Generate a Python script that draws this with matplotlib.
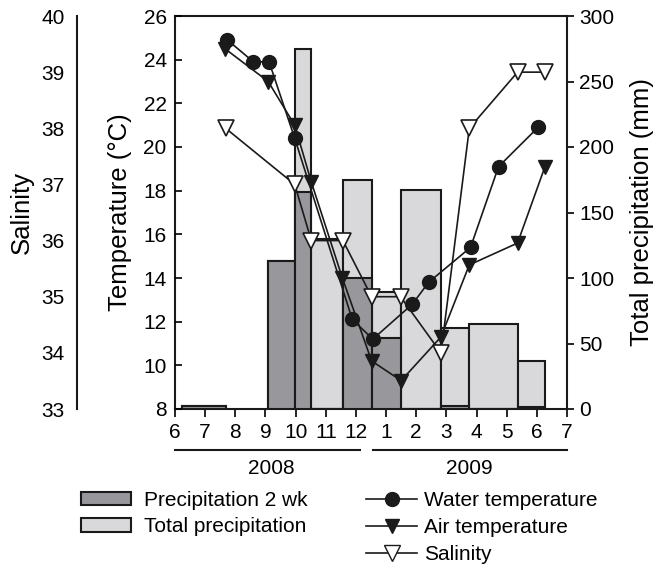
import numpy as np
import matplotlib
matplotlib.use("Agg")
import matplotlib.pyplot as plt
from matplotlib.patches import Patch
from matplotlib.lines import Line2D

plt.rcParams['font.family'] = ['Liberation Sans', 'DejaVu Sans']

# x = months since start of June 2008 (tick "6" = 0)
month_labels = ['6', '7', '8', '9', '10', '11', '12', '1', '2', '3', '4', '5', '6', '7']

# precipitation bars between sampling dates (mm)
bar_start = [0.24, 3.09, 3.97, 4.52, 5.57, 6.52, 7.48, 8.82, 9.76, 11.36]
bar_end = [1.68, 3.97, 4.52, 5.57, 6.52, 7.48, 8.82, 9.76, 11.36, 12.27]
precip_total = [2, 113, 275, 130, 175, 89, 167, 62, 65, 37]
precip_2wk = [2, 113, 166, 0, 100, 54, 0, 2.5, 0, 1.5]

# water temperature (°C)
water_x = [1.74, 2.60, 3.12, 3.97, 5.88, 6.56, 7.87, 8.41, 9.80, 10.73, 12.04]
water_t = [24.9, 23.9, 23.9, 20.4, 12.1, 11.2, 12.8, 13.8, 15.4, 19.1, 20.9]

# air temperature (°C)
air_x = [1.66, 3.09, 3.97, 4.52, 5.55, 6.52, 7.50, 8.82, 9.76, 11.36, 12.27]
air_t = [24.5, 23.0, 21.0, 18.4, 14.0, 10.2, 9.3, 11.3, 14.6, 15.6, 19.1]

# salinity
sal_x = [1.68, 3.97, 4.52, 5.57, 6.52, 7.48, 8.82, 9.76, 11.36, 12.27]
sal = [38, 37, 36, 36, 35, 35, 34, 38, 39, 39]

W, H = 654, 568
fig = plt.figure(figsize=(W / 100, H / 100), dpi=100)
rect = [175 / W, 1 - 409 / H, (567 - 175) / W, (409 - 16) / H]

light = '#d9d9db'
dark = '#98989c'
ink = '#1a1a1a'
tick_fs = 15
label_fs = 18.5

# precipitation axes (bottom layer, right axis)
axp = fig.add_axes(rect)
widths = np.array(bar_end) - np.array(bar_start)
axp.bar(bar_start, precip_total, width=widths, align='edge', color=light,
        edgecolor=ink, linewidth=1.5, zorder=2)
axp.bar(bar_start, precip_2wk, width=widths, align='edge', color=dark,
        edgecolor=ink, linewidth=1.5, zorder=3)
axp.set_ylim(0, 300)
axp.set_xlim(0, 13)
axp.yaxis.tick_right()
axp.yaxis.set_label_position('right')
axp.set_yticks(range(0, 301, 50))
axp.tick_params(axis='y', direction='out', length=5, width=1.2, labelsize=tick_fs, pad=4)
axp.set_ylabel('Total precipitation (mm)', fontsize=label_fs, labelpad=11)
axp.set_xticks(range(14))
axp.set_xticklabels(month_labels)
axp.tick_params(axis='x', direction='out', length=6, width=1.2, labelsize=tick_fs, pad=4)
for s in axp.spines.values():
    s.set_linewidth(1.5)
    s.set_color(ink)

# temperature axes (left)
axt = fig.add_axes(rect, sharex=axp)
axt.patch.set_visible(False)
axt.plot(water_x, water_t, color=ink, lw=1.2, marker='o', ms=10,
         mfc=ink, mec=ink, zorder=4)
axt.plot(air_x, air_t, color=ink, lw=1.2, marker='v', ms=10,
         mfc=ink, mec=ink, zorder=4)
axt.set_ylim(8, 26)
axt.set_yticks(range(8, 27, 2))
axt.tick_params(axis='y', direction='in', length=5, width=1.2, labelsize=tick_fs, pad=6)
axt.tick_params(axis='x', bottom=False, labelbottom=False)
axt.set_ylabel('Temperature (°C)', fontsize=label_fs, labelpad=8)
for s in axt.spines.values():
    s.set_visible(False)

# salinity axes (top layer, spine moved far left)
axs = fig.add_axes(rect, sharex=axp)
axs.patch.set_visible(False)
axs.plot(sal_x, sal, color=ink, lw=1.2, marker='v', ms=11,
         mfc='white', mec=ink, mew=1.2, zorder=5)
axs.set_ylim(33, 40)
axs.set_yticks(range(33, 41))
for k in ['top', 'right', 'bottom']:
    axs.spines[k].set_visible(False)
axs.spines['left'].set_position(('axes', (77 - 175) / 392))
axs.spines['left'].set_linewidth(1.5)
axs.spines['left'].set_color(ink)
axs.tick_params(axis='y', length=0, labelsize=tick_fs, pad=9)
axs.tick_params(axis='x', bottom=False, labelbottom=False)
axs.set_ylabel('Salinity', fontsize=label_fs, labelpad=5.5)

# year brackets
tr = axp.get_xaxis_transform()
y_line = -(450 - 409) / 393
axp.plot([0, 6.12], [y_line, y_line], color=ink, lw=1.5, transform=tr, clip_on=False)
axp.plot([6.58, 13], [y_line, y_line], color=ink, lw=1.5, transform=tr, clip_on=False)
y_txt = -(469 - 409) / 393
axp.text(3.2, y_txt, '2008', transform=tr, ha='center', va='center', fontsize=15)
axp.text(9.75, y_txt, '2009', transform=tr, ha='center', va='center', fontsize=15)

# legends
h_bars = [Patch(facecolor=dark, edgecolor=ink, linewidth=1.5),
          Patch(facecolor=light, edgecolor=ink, linewidth=1.5)]
fig.legend(h_bars, ['Precipitation 2 wk', 'Total precipitation'],
           loc='upper left', bbox_to_anchor=(81 / W, 1 - 491 / H),
           frameon=False, fontsize=15, handlelength=2.4, handleheight=0.63,
           handletextpad=0.62, labelspacing=0.35, borderaxespad=0, borderpad=0)
h_lines = [Line2D([], [], color=ink, lw=1.2, marker='o', ms=10, mfc=ink),
           Line2D([], [], color=ink, lw=1.2, marker='v', ms=10, mfc=ink),
           Line2D([], [], color=ink, lw=1.2, marker='v', ms=11, mfc='white')]
fig.legend(h_lines, ['Water temperature', 'Air temperature', 'Salinity'],
           loc='upper left', bbox_to_anchor=(366 / W, 1 - 491 / H),
           frameon=False, fontsize=15, handlelength=2.45,
           handletextpad=0.34, labelspacing=0.38, borderaxespad=0, borderpad=0)

fig.savefig('out.png', dpi=100)
